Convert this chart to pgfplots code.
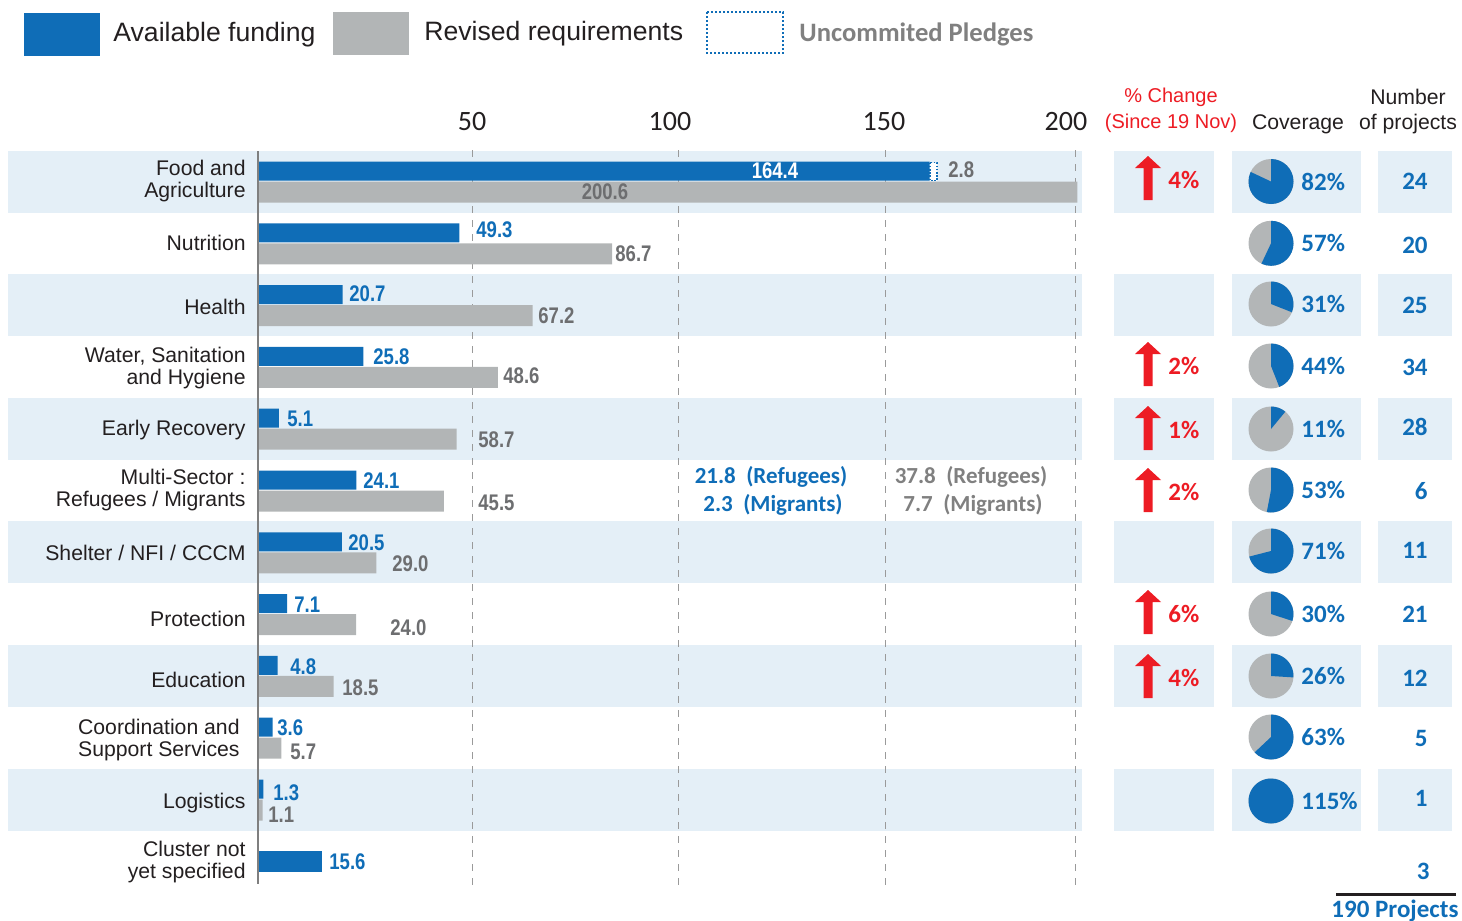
\documentclass[border=0pt]{standalone}
\usepackage{pgfplots}
\pgfplotsset{compat=1.18}
\usepackage{fontspec}
\setmainfont{Liberation Sans}
\newfontfamily\carl{Carlito}
\newfontfamily\nb[FakeStretch=0.82]{Liberation Sans}
\definecolor{barblue}{HTML}{0F6DB7}
\definecolor{bargray}{HTML}{B2B5B6}
\definecolor{band}{HTML}{E4EFF7}
\definecolor{lblgray}{HTML}{6D6E70}
\definecolor{midgray}{HTML}{808080}
\definecolor{txt}{HTML}{231F20}
\definecolor{myred}{HTML}{ED1C24}
\definecolor{gridgray}{HTML}{9A9A9A}
\definecolor{piegray}{HTML}{B3B6B7}
\definecolor{axgray}{HTML}{7F7F7F}

\pgfplotsset{pxaxis/.style={scale only axis, width=731pt, height=460.5pt,
  xmin=0, xmax=1462, ymin=0, ymax=921, y dir=reverse, axis lines=none,
  xtick=\empty, ytick=\empty, clip=false, at={(365.5pt,230.25pt)}, anchor=center}}

% band rows (y centre in px)
\newcommand{\bandrow}[1]{%
  \fill[band] (axis cs:8,{#1-31}) rectangle (axis cs:1082,{#1+31});
  \fill[band] (axis cs:1114,{#1-31}) rectangle (axis cs:1214,{#1+31});
  \fill[band] (axis cs:1232,{#1-31}) rectangle (axis cs:1361,{#1+31});
  \fill[band] (axis cs:1378,{#1-31}) rectangle (axis cs:1452,{#1+31});}
% pie: y centre, percent
\newcommand{\pie}[2]{%
  \fill[piegray] (axis cs:1271,#1) circle[radius=11.25pt];
  \fill[barblue] (axis cs:1271,#1) -- ++(0,11.25pt) arc[start angle=90, delta angle={-3.6*min(#2,100)}, radius=11.25pt] -- cycle;
  \node[anchor=west, inner sep=0, text=barblue, font=\carl\bfseries\fontsize{12.5}{14}\selectfont] at (axis cs:1301,#1) {#2\%};}
% change arrow: y centre, percent
\newcommand{\chg}[2]{%
  \fill[myred] (axis cs:1143.5,{#1+20}) -- (axis cs:1152.5,{#1+20}) -- (axis cs:1152.5,{#1-12}) -- (axis cs:1161,{#1-12}) -- (axis cs:1148,{#1-24}) -- (axis cs:1135,{#1-12}) -- (axis cs:1143.5,{#1-12}) -- cycle;
  \node[anchor=west, inner sep=0, text=myred, font=\carl\bfseries\fontsize{12.5}{14}\selectfont] at (axis cs:1168,#1) {#2\%};}
\newcommand{\nproj}[2]{%
  \node[anchor=east, inner sep=0, text=barblue, font=\carl\bfseries\fontsize{12.5}{14}\selectfont] at (axis cs:1428,#1) {#2};}
\newcommand{\bv}[3]{\node[anchor=west, inner sep=0, text=barblue, font=\nb\bfseries\fontsize{11.3}{13}\selectfont] at (axis cs:#1,#2) {#3};}
\newcommand{\gv}[3]{\node[anchor=west, inner sep=0, text=lblgray, font=\nb\bfseries\fontsize{11.3}{13}\selectfont] at (axis cs:#1,#2) {#3};}
\newcommand{\cat}[2]{\node[anchor=east, align=right, inner sep=0, text=txt, font=\fontsize{10.6}{11}\selectfont] at (axis cs:246,#1) {#2};}
\newcommand{\tl}[2]{\node[inner sep=0, text=txt, font=\carl\fontsize{14}{16}\selectfont] at (axis cs:#1,122) {#2};}
\newcommand{\gl}[1]{\draw[gridgray, line width=0.5pt, dash pattern=on 3.5pt off 3.5pt] (axis cs:#1,150) -- (axis cs:#1,890);}

\begin{document}
\begin{tikzpicture}
\useasboundingbox (0,0) rectangle (731pt,460.5pt);
% ---------- background ----------
\begin{axis}[pxaxis]
\addplot[draw=none] coordinates {(0,0)};
\bandrow{181.5}
\bandrow{305.1}
\bandrow{428.7}
\bandrow{552.3}
\bandrow{675.9}
\bandrow{799.5}
\gl{472}
\gl{678}
\gl{885}
\gl{1075}
\end{axis}
% ---------- bars ----------
\begin{axis}[scale only axis, width=731pt, height=460.5pt,
  xmin=-63.158, xmax=294.737, ymin=-2.937, ymax=11.966, y dir=reverse,
  axis lines=none, xtick=\empty, ytick=\empty, clip=false,
  at={(365.5pt,230.25pt)}, anchor=center]
% Available funding
\addplot[xbar, bar shift=0pt, fill=barblue, draw=none, bar width=9.5pt] coordinates {
 (164.4,-0.17) (49.3,0.83) (20.7,1.83) (25.8,2.83) (5.1,3.83) (24.1,4.83)
 (20.5,5.83) (7.1,6.83) (4.8,7.83) (3.6,8.83) (1.3,9.83)};
\addplot[xbar, bar shift=0pt, fill=barblue, draw=none, bar width=10.4pt] coordinates {(15.6,11)};
% Revised requirements (bar lengths as drawn)
\addplot[xbar, bar shift=0pt, fill=bargray, draw=none, bar width=10.5pt] coordinates {
 (200.6,0.17) (86.7,1.17) (67.2,2.17) (58.7,3.17) (48.6,4.17) (45.5,5.17)
 (29.0,6.17) (24.0,7.17) (18.5,8.17) (5.7,9.17) (1.1,10.17)};
\end{axis}
% ---------- foreground ----------
\begin{axis}[pxaxis]
\addplot[draw=none] coordinates {(0,0)};
\draw[axgray, line width=1pt] (axis cs:258,151) -- (axis cs:258,884);
% uncommitted pledge
\draw[barblue, line width=0.8pt, dash pattern=on 0.8pt off 0.8pt, fill=white] (axis cs:930,162.5) rectangle (axis cs:937,180.5);
% legend
\fill[barblue] (axis cs:24,13) rectangle (axis cs:100,56);
\node[anchor=west, inner sep=0, text=txt, font=\fontsize{13.3}{15}\selectfont] at (axis cs:113,35) {Available funding};
\fill[bargray] (axis cs:333,12) rectangle (axis cs:409,55);
\node[anchor=west, inner sep=0, text=txt, font=\fontsize{13.3}{15}\selectfont] at (axis cs:424,34) {Revised requirements};
\draw[barblue, line width=1pt, dash pattern=on 1pt off 1pt] (axis cs:707,12) rectangle (axis cs:783,53);
\node[anchor=west, inner sep=0, text=midgray, font=\carl\bfseries\fontsize{13.3}{15}\selectfont] at (axis cs:799,34) {Uncommited Pledges};
% tick labels
\tl{472}{50}
\tl{670}{100}
\tl{884}{150}
\tl{1066}{200}
% headers
\node[inner sep=0, text=myred, font=\fontsize{10}{12}\selectfont] at (axis cs:1171,97) {\% Change};
\node[inner sep=0, text=myred, font=\fontsize{10}{12}\selectfont] at (axis cs:1171,123) {(Since 19 Nov)};
\node[inner sep=0, text=txt, font=\fontsize{10.6}{12}\selectfont] at (axis cs:1298,124) {Coverage};
\node[inner sep=0, text=txt, font=\fontsize{10.6}{12}\selectfont] at (axis cs:1408,97) {Number};
\node[inner sep=0, text=txt, font=\fontsize{10.6}{12}\selectfont] at (axis cs:1408,124) {of projects};
% category labels
\cat{181.5}{Food and\\Agriculture}
\cat{243.3}{Nutrition}
\cat{307}{Health}
\cat{368}{Water, Sanitation\\and Hygiene}
\cat{430}{Early Recovery}
\cat{490}{Multi-Sector :\\Refugees / Migrants}
\cat{553}{Shelter / NFI / CCCM}
\cat{619}{Protection}
\cat{680}{Education}
\node[anchor=east, align=right, inner sep=0, text=txt, font=\fontsize{10.6}{11}\selectfont] at (axis cs:240,740) {Coordination and\\Support Services};
\cat{803}{Logistics}
\cat{862}{Cluster not\\yet specified}
% value labels
\node[inner sep=0, text=white, font=\nb\bfseries\fontsize{11.3}{13}\selectfont] at (axis cs:775,171) {164.4};
\gv{948}{170}{2.8}
\node[inner sep=0, text=lblgray, font=\nb\bfseries\fontsize{11.3}{13}\selectfont] at (axis cs:605,192) {200.6};
\bv{476}{230}{49.3}  \gv{615}{254}{86.7}
\bv{349}{294}{20.7}  \gv{538}{316}{67.2}
\bv{373}{357}{25.8}  \gv{503}{376}{48.6}
\bv{287}{419}{5.1}   \gv{478}{440}{58.7}
\bv{363}{481}{24.1}  \gv{478}{503}{45.5}
\bv{348}{543}{20.5}  \gv{392}{564}{29.0}
\bv{294}{605}{7.1}   \gv{390}{628}{24.0}
\bv{290}{667}{4.8}   \gv{342}{688}{18.5}
\bv{277}{728}{3.6}   \gv{290}{752}{5.7}
\bv{273}{793}{1.3}   \gv{268}{815}{1.1}
\bv{329}{862}{15.6}
% multi-sector split
\node[inner sep=0, text=barblue, font=\carl\bfseries\fontsize{11.5}{14}\selectfont] at (axis cs:771,477) {21.8\ \ (Refugees)};
\node[inner sep=0, text=barblue, font=\carl\bfseries\fontsize{11.5}{14}\selectfont] at (axis cs:773,505) {2.3\ \ (Migrants)};
\node[inner sep=0, text=midgray, font=\carl\bfseries\fontsize{11.5}{14}\selectfont] at (axis cs:971,477) {37.8\ \ (Refugees)};
\node[inner sep=0, text=midgray, font=\carl\bfseries\fontsize{11.5}{14}\selectfont] at (axis cs:973,505) {7.7\ \ (Migrants)};
% % change
\chg{180}{4}
\chg{366}{2}
\chg{430}{1}
\chg{492}{2}
\chg{614}{6}
\chg{678}{4}
% coverage pies
\pie{181.5}{82}
\pie{243.3}{57}
\pie{304}{31}
\pie{366}{44}
\pie{429}{11}
\pie{490}{53}
\pie{551}{71}
\pie{614}{30}
\pie{676}{26}
\pie{737}{63}
\pie{801}{115}
% number of projects
\nproj{181.5}{24}
\nproj{245}{20}
\nproj{305}{25}
\nproj{367}{34}
\nproj{427}{28}
\nproj{491}{6}
\nproj{550}{11}
\nproj{614}{21}
\nproj{678}{12}
\nproj{738}{5}
\nproj{798}{1}
\node[anchor=east, inner sep=0, text=barblue, font=\carl\bfseries\fontsize{12.5}{14}\selectfont] at (axis cs:1430,871) {3};
\draw[txt, line width=1.5pt] (axis cs:1336,894) -- (axis cs:1456,894);
\node[inner sep=0, text=barblue, font=\carl\bfseries\fontsize{12.5}{14}\selectfont] at (axis cs:1395,911) {190 Projects};
\end{axis}
\end{tikzpicture}
\end{document}
